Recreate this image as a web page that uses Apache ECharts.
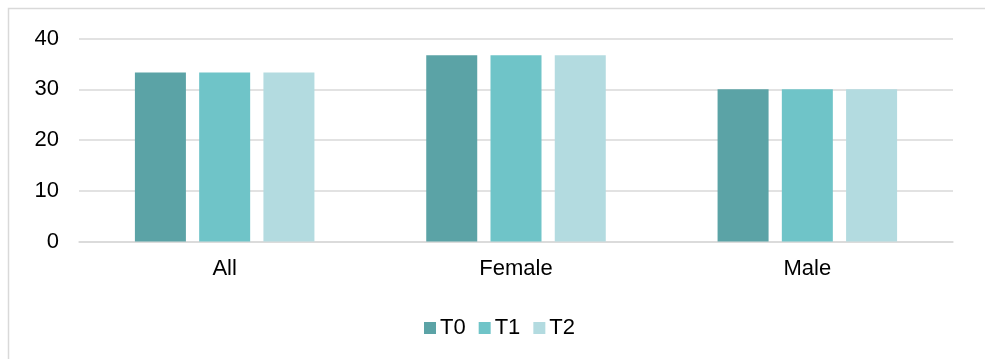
<!DOCTYPE html>
<html>
<head>
<meta charset="utf-8">
<script src="https://cdn.jsdelivr.net/npm/echarts@6/dist/echarts.min.js"></script>
<style>
  html, body { margin: 0; padding: 0; background: #fff; }
  #chart { width: 985px; height: 359px; }
</style>
</head>
<body>
<div id="chart"></div>
<script>
// Groups along the x axis
const categories = ['All', 'Female', 'Male'];
// Series names
const seriesNames = ['T0', 'T1', 'T2'];
// Values per group for each time point
const t0Values = [33.3, 36.7, 30.0];
const t1Values = [33.3, 36.7, 30.0];
const t2Values = [33.3, 36.7, 30.0];
// Y axis ticks
const yTicks = [0, 10, 20, 30, 40];

const colors = ['#5BA3A6', '#6FC4C8', '#B3DBE0'];
const seriesValues = [t0Values, t1Values, t2Values];

const chart = echarts.init(document.getElementById('chart'), null, { renderer: 'canvas' });

const font = '"Liberation Sans", Arial, sans-serif';

chart.setOption({
  animation: false,
  backgroundColor: '#ffffff',
  color: colors,
  graphic: [{
    type: 'rect',
    silent: true,
    shape: { x: 8.5, y: 8.5, width: 1100, height: 500 },
    style: { fill: 'none', stroke: '#d9d9d9', lineWidth: 1.5 }
  }],
  grid: { left: 79, right: 32, top: 38.5, bottom: 117.5, containLabel: false },
  legend: {
    data: seriesNames,
    top: 317,
    left: 424,
    padding: 0,
    itemWidth: 12,
    itemHeight: 12,
    itemGap: 13,
    icon: 'rect',
    textStyle: { fontFamily: font, fontSize: 22, color: '#000', padding: [0, 0, 0, -1] }
  },
  xAxis: {
    type: 'category',
    data: categories,
    axisLine: { show: true, lineStyle: { color: '#d9d9d9', width: 1.5 } },
    axisTick: { show: false },
    axisLabel: { fontFamily: font, fontSize: 22, color: '#000', margin: 16 }
  },
  yAxis: {
    type: 'value',
    min: yTicks[0],
    max: yTicks[yTicks.length - 1],
    interval: 10,
    axisLine: { show: false },
    axisTick: { show: false },
    splitLine: { lineStyle: { color: '#d9d9d9', width: 1.5 } },
    axisLabel: { fontFamily: font, fontSize: 22, color: '#000', margin: 20 }
  },
  series: seriesNames.map((name, i) => ({
    name: name,
    type: 'bar',
    data: seriesValues[i],
    barWidth: 51,
    barGap: '26%',
    itemStyle: { color: colors[i] }
  }))
});
</script>
</body>
</html>
